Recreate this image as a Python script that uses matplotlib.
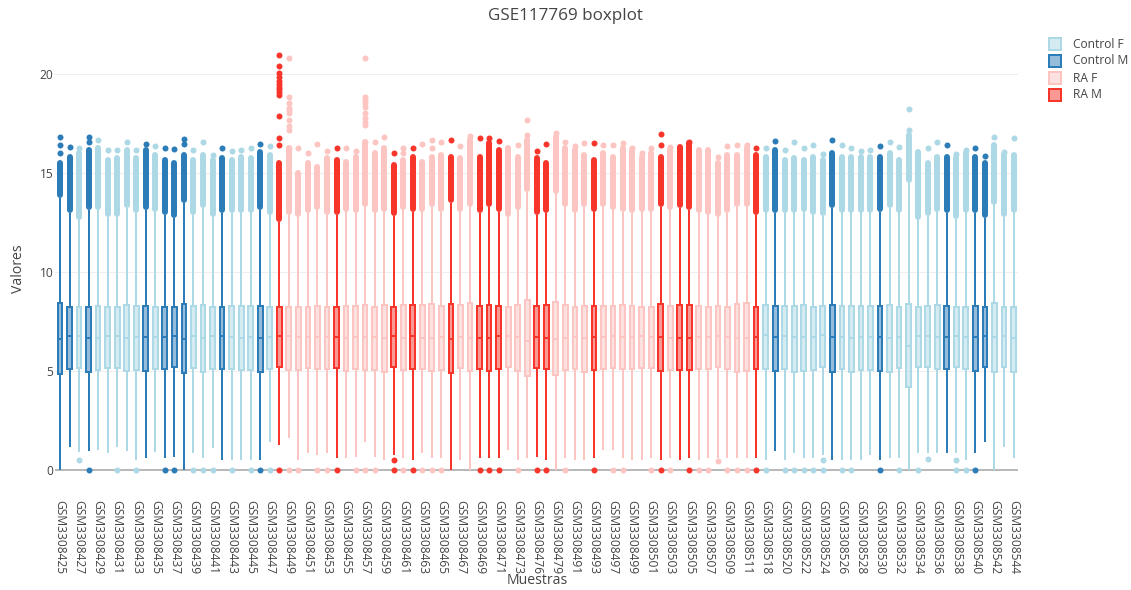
import matplotlib
matplotlib.use("Agg")
import matplotlib.pyplot as plt
from matplotlib.patches import Rectangle
from matplotlib.colors import to_rgba

plt.rcParams['font.family'] = ['Open Sans', 'DejaVu Sans']

# ---------------------------------------------------------------- data
sample_ids = [
    425, 426, 427, 428, 429, 430, 431, 432, 433, 434, 435, 436, 437, 438, 439, 440,
    441, 442, 443, 444, 445, 446, 447, 448, 449, 450, 451, 452, 453, 454, 455, 456,
    457, 458, 459, 460, 461, 462, 463, 464, 465, 466, 467, 468, 469, 470, 471, 472,
    473, 474, 476, 477, 479, 490, 491, 492, 493, 495, 497, 498, 499, 500, 501, 502,
    503, 504, 505, 506, 507, 508, 509, 510, 511, 515, 518, 519, 520, 521, 522, 523,
    524, 525, 526, 527, 528, 529, 530, 531, 532, 533, 534, 535, 536, 537, 538, 539,
    540, 541, 542, 543, 544]
samples = ["GSM3308%d" % s for s in sample_ids]

group = [
    'CM', 'CM', 'CF', 'CM', 'CF', 'CF', 'CF', 'CF', 'CF', 'CM',
    'CF', 'CM', 'CM', 'CM', 'CF', 'CF', 'CF', 'CM', 'CF', 'CF',
    'CF', 'CM', 'CF', 'RM', 'RF', 'RF', 'RF', 'RF', 'RF', 'RM',
    'RF', 'RF', 'RF', 'RF', 'RF', 'RM', 'RF', 'RM', 'RF', 'RF',
    'RF', 'RM', 'RF', 'RF', 'RM', 'RM', 'RM', 'RF', 'RF', 'RF',
    'RM', 'RM', 'RF', 'RF', 'RF', 'RF', 'RM', 'RF', 'RF', 'RF',
    'RF', 'RF', 'RF', 'RM', 'RF', 'RM', 'RM', 'RF', 'RF', 'RF',
    'RF', 'RF', 'RF', 'RM', 'CF', 'CM', 'CF', 'CF', 'CF', 'CF',
    'CF', 'CM', 'CF', 'CF', 'CF', 'CF', 'CM', 'CF', 'CF', 'CF',
    'CF', 'CF', 'CF', 'CM', 'CF', 'CF', 'CM', 'CM', 'CF', 'CF',
    'CF']

q3 = [8.42, 8.26, 8.22, 8.26, 8.29, 8.26, 8.26, 8.34, 8.29, 8.29,
      8.26, 8.26, 8.26, 8.37, 8.29, 8.34, 8.26, 8.26, 8.29, 8.29,
      8.29, 8.29, 8.26, 8.22, 8.22, 8.22, 8.26, 8.29, 8.26, 8.26,
      8.29, 8.29, 8.34, 8.26, 8.34, 8.26, 8.34, 8.34, 8.34, 8.37,
      8.29, 8.37, 8.34, 8.42, 8.29, 8.34, 8.29, 8.26, 8.34, 8.59,
      8.29, 8.34, 8.51, 8.34, 8.26, 8.29, 8.29, 8.29, 8.29, 8.34,
      8.29, 8.26, 8.26, 8.37, 8.29, 8.34, 8.34, 8.29, 8.26, 8.29,
      8.26, 8.37, 8.42, 8.26, 8.34, 8.29, 8.29, 8.29, 8.34, 8.26,
      8.29, 8.34, 8.29, 8.29, 8.29, 8.29, 8.29, 8.34, 8.26, 8.37,
      8.26, 8.29, 8.34, 8.29, 8.26, 8.26, 8.29, 8.26, 8.42, 8.26,
      8.26]

median = [6.60, 6.77, 6.77, 6.69, 6.69, 6.77, 6.77, 6.69, 6.74, 6.74,
          6.74, 6.74, 6.77, 6.60, 6.77, 6.69, 6.77, 6.77, 6.74, 6.69,
          6.74, 6.69, 6.74, 6.77, 6.77, 6.74, 6.74, 6.74, 6.74, 6.74,
          6.69, 6.74, 6.74, 6.74, 6.69, 6.77, 6.69, 6.77, 6.69, 6.69,
          6.74, 6.60, 6.74, 6.66, 6.69, 6.69, 6.77, 6.77, 6.74, 6.52,
          6.74, 6.69, 6.60, 6.69, 6.74, 6.69, 6.74, 6.74, 6.77, 6.74,
          6.74, 6.77, 6.74, 6.74, 6.69, 6.69, 6.69, 6.74, 6.74, 6.77,
          6.74, 6.69, 6.69, 6.74, 6.82, 6.74, 6.77, 6.74, 6.74, 6.74,
          6.81, 6.74, 6.74, 6.69, 6.74, 6.74, 6.74, 6.69, 6.74, 6.27,
          6.77, 6.77, 6.74, 6.74, 6.77, 6.74, 6.74, 6.77, 6.74, 6.77,
          6.69]

q1 = [4.84, 5.09, 5.17, 4.97, 5.06, 5.14, 5.14, 5.00, 5.06, 5.00,
      5.09, 5.09, 5.22, 4.89, 5.14, 4.97, 5.09, 5.09, 5.09, 5.06,
      5.06, 4.97, 5.09, 5.22, 5.06, 5.06, 5.14, 5.09, 5.09, 5.14,
      5.02, 5.09, 5.06, 5.06, 4.97, 5.19, 5.06, 5.09, 5.09, 5.00,
      5.06, 4.89, 5.14, 5.00, 5.09, 5.00, 5.09, 5.19, 5.00, 4.75,
      5.14, 5.09, 4.80, 5.06, 5.09, 4.97, 5.06, 5.09, 5.14, 5.09,
      5.09, 5.14, 5.14, 5.00, 5.06, 5.06, 5.06, 5.09, 5.09, 5.22,
      5.09, 4.97, 5.00, 5.09, 5.09, 5.02, 5.09, 4.97, 5.02, 5.06,
      5.19, 4.97, 5.09, 4.97, 5.06, 5.06, 5.02, 4.97, 5.14, 4.18,
      5.19, 5.22, 5.09, 5.09, 5.19, 5.09, 5.02, 5.19, 4.97, 5.19,
      4.97]

whisker_low = [0.00, 1.18, 0.89, 0.98, 1.01, 0.84, 1.18, 0.96, 0.51, 0.59,
               0.93, 0.59, 0.67, 0.00, 0.84, 0.59, 1.10, 0.51, 0.51, 0.51,
               0.51, 0.51, 1.43, 1.26, 1.60, 0.51, 0.84, 0.76, 0.84, 0.59,
               0.59, 0.67, 1.43, 0.67, 0.51, 0.75, 0.59, 0.51, 0.84, 0.59,
               0.59, 0.00, 0.51, 0.00, 0.59, 0.59, 0.59, 1.01, 0.51, 0.59,
               0.67, 0.51, 0.00, 0.59, 0.51, 0.51, 0.59, 1.01, 1.01, 0.59,
               0.51, 0.51, 0.59, 0.51, 0.59, 0.51, 0.59, 0.51, 0.59, 0.59,
               0.59, 0.59, 0.59, 0.59, 0.51, 0.98, 0.51, 0.88, 0.59, 0.59,
               0.76, 0.51, 0.51, 0.51, 0.51, 0.76, 0.51, 0.59, 0.59, 0.00,
               0.88, 0.84, 0.88, 0.88, 0.84, 0.51, 0.88, 1.43, 0.00, 1.18,
               0.59]

whisker_high = [13.73, 12.97, 12.64, 13.14, 13.14, 12.81, 12.81, 13.23, 12.97, 13.14,
                13.06, 12.89, 12.72, 13.48, 12.89, 13.23, 12.81, 12.97, 12.97, 12.97,
                12.97, 13.14, 12.89, 12.55, 12.89, 12.81, 12.97, 13.14, 12.89, 12.89,
                13.06, 12.97, 13.31, 12.97, 13.06, 12.85, 13.14, 13.06, 13.06, 13.31,
                13.06, 13.48, 13.06, 13.31, 12.97, 13.31, 13.06, 12.81, 13.14, 14.07,
                12.89, 12.97, 13.98, 13.31, 12.97, 13.31, 13.06, 13.31, 13.14, 13.06,
                12.97, 13.06, 13.06, 13.31, 13.14, 13.23, 13.14, 12.97, 12.89, 12.81,
                12.97, 13.31, 13.31, 12.89, 12.97, 12.97, 13.01, 12.97, 13.06, 12.89,
                12.84, 13.23, 12.97, 12.97, 12.97, 12.97, 13.06, 13.23, 12.97, 14.49,
                12.64, 12.84, 13.06, 12.97, 12.67, 12.97, 13.01, 12.72, 13.40, 12.81,
                12.97]

# upper end of the densely packed run of outliers above each whisker
outlier_run_top = [15.50, 15.84, 16.01, 16.18, 16.26, 15.67, 15.75, 16.18, 15.75, 16.18,
                   15.92, 15.67, 15.50, 15.92, 15.67, 15.92, 15.67, 15.75, 15.67, 15.84,
                   15.75, 16.09, 15.92, 15.50, 16.26, 15.00, 15.50, 15.33, 15.75, 15.67,
                   15.59, 15.84, 16.60, 16.01, 16.26, 15.42, 15.67, 15.84, 15.59, 15.84,
                   15.92, 15.84, 15.75, 16.68, 15.84, 16.51, 16.18, 16.26, 15.84, 16.68,
                   15.75, 15.50, 16.85, 16.26, 16.18, 15.92, 15.67, 16.01, 15.84, 16.26,
                   16.18, 15.84, 16.01, 15.84, 16.18, 16.34, 16.51, 16.18, 16.18, 15.50,
                   15.92, 15.92, 16.26, 15.92, 15.84, 16.18, 15.67, 15.75, 15.67, 15.84,
                   15.67, 16.01, 15.84, 15.84, 15.84, 15.84, 15.84, 16.01, 15.67, 16.93,
                   16.09, 15.50, 15.84, 15.84, 15.75, 16.01, 15.84, 15.50, 16.43, 15.92,
                   15.92]

# isolated high outliers
high_outliers = [
    [16.01, 16.43, 16.85], [16.34], [16.26], [16.56, 16.85], [16.68],
    [16.20], [16.20], [16.56], [16.17], [16.50],
    [16.40], [16.26], [16.22], [16.46, 16.73], [16.18],
    [16.60], [15.92], [16.26], [16.13], [16.20],
    [16.30], [16.46], [16.40],
    [16.43, 16.80, 17.90, 18.96, 19.10, 19.25, 19.38, 19.50, 19.65, 19.85, 20.05, 20.40, 20.98],
    [16.28, 17.19, 17.40, 17.69, 18.05, 18.20, 18.30, 18.57, 18.87, 20.83],
    [16.26], [16.01], [16.46], [16.13], [16.30],
    [16.26], [16.13],
    [16.60, 17.44, 17.60, 17.80, 18.05, 18.37, 18.55, 18.70, 18.87, 20.85],
    [16.60], [16.85],
    [16.01], [16.01, 16.30], [16.30], [16.47], [16.26, 16.68],
    [16.60], [16.68], [16.40], [16.90], [16.80],
    [16.78], [16.65], [], [16.43], [16.93, 17.70],
    [16.13], [16.50], [17.05], [16.60], [16.40],
    [16.51], [16.51], [16.43], [16.43], [16.51],
    [16.30], [16.05], [16.30], [16.43, 17.00], [16.34],
    [], [16.60], [], [], [15.84],
    [16.40], [16.43], [16.43], [16.30], [16.26],
    [16.63], [16.20], [16.58], [16.26], [16.43],
    [15.96], [16.68], [16.43], [16.26], [16.13],
    [16.17], [16.40], [16.58], [16.34], [17.20, 18.23],
    [], [16.26], [16.58], [16.43], [15.96],
    [16.17], [16.26], [15.88], [16.85], [16.09],
    [16.78]]

# low outliers (zeros and near-zero values)
low_outliers = [
    [], [], [0.51], [0], [], [], [0], [], [0], [],
    [], [0], [0], [], [0], [0], [0], [], [0], [],
    [0], [0], [0], [0], [0], [0], [], [0], [0], [0],
    [], [0], [0], [0], [], [0, 0.51], [0], [0], [0], [0],
    [0], [], [], [], [0], [0], [0], [], [0], [],
    [0], [0], [], [0], [], [], [0], [], [0], [0],
    [], [], [0], [0], [0], [], [0], [0], [0], [0.45],
    [0], [0], [0], [0], [0], [], [0], [0], [0], [0],
    [0, 0.51], [], [0], [0], [], [], [0], [], [0], [],
    [0], [0.54], [], [], [0, 0.51], [0], [0], [], [], [],
    []]

legend_order = ['CF', 'CM', 'RF', 'RM']
legend_names = {'CF': 'Control F', 'CM': 'Control M', 'RF': 'RA F', 'RM': 'RA M'}
colors = {'CF': '#add8e6', 'CM': '#2c7cb8', 'RF': '#fcc5c2', 'RM': '#f7352b'}

# ---------------------------------------------------------------- figure
W, H = 1131, 590
fig = plt.figure(figsize=(W / 100, H / 100), dpi=100)
px = 0.72  # points per pixel at 100 dpi

ax_left, ax_right, ax_top, ax_bottom = 55.2, 1018.3, 47.7, 489.8
ax = fig.add_axes([ax_left / W, 1 - ax_bottom / H,
                   (ax_right - ax_left) / W, (ax_bottom - ax_top) / H])
ax.set_xlim(-0.5, len(samples) - 0.5)
ax.set_ylim(-1.0, 21.35)

for s in ax.spines.values():
    s.set_visible(False)

yticks = [0, 5, 10, 15, 20]
for v in yticks[1:]:
    ax.axhline(v, color='#eeeeee', lw=1 * px, zorder=0)
ax.axhline(0, color='#a3a3a3', lw=1.5 * px, zorder=0.5)

lw = 2 * px
ms = 6 * px
for g in legend_order:
    c = colors[g]
    idx = [i for i, gg in enumerate(group) if gg == g]
    stats = [dict(med=median[i], q1=q1[i], q3=q3[i],
                  whislo=whisker_low[i], whishi=whisker_high[i], fliers=[])
             for i in idx]
    ax.bxp(stats, positions=idx, widths=0.5, showfliers=False, showcaps=False,
           patch_artist=True, manage_ticks=False,
           boxprops=dict(facecolor=to_rgba(c, 0.5), edgecolor=c, linewidth=lw),
           whiskerprops=dict(color=c, linewidth=lw, solid_capstyle='butt'),
           medianprops=dict(color=c, linewidth=lw, solid_capstyle='butt'))
    for i in idx:
        ax.plot([i, i], [whisker_high[i] + 0.15, outlier_run_top[i]], color=c,
                lw=ms, solid_capstyle='round', zorder=2)
        pts = high_outliers[i] + low_outliers[i]
        if pts:
            ax.plot([i] * len(pts), pts, 'o', color=c, ms=ms, mew=0,
                    zorder=2.1, clip_on=False)

ax.set_yticks(yticks)
ax.set_yticklabels([str(v) for v in yticks])
ax.set_xticks(range(0, len(samples), 2))
ax.set_xticklabels(samples[::2], rotation=-90, va='top', ha='center')
ax.tick_params(axis='y', length=0, pad=2 * px, labelsize=12 * px, labelcolor='#444444')
ax.tick_params(axis='x', length=0, pad=10 * px, labelsize=12 * px, labelcolor='#444444')

fig.text(0.5, 1 - 16 / H, 'GSE117769 boxplot', ha='center', va='center',
         fontsize=17 * px, color='#444444')
fig.text((ax_left + ax_right) / 2 / W, 1 - 581 / H, 'Muestras', ha='center',
         va='center', fontsize=14 * px, color='#444444')
fig.text(18 / W, 1 - (ax_top + ax_bottom) / 2 / H, 'Valores', ha='center',
         va='center', rotation=90, fontsize=14 * px, color='#444444')

# legend
for k, g in enumerate(legend_order):
    yc = 44 + 17 * k
    c = colors[g]
    fig.patches.append(Rectangle(((1049) / W, 1 - (yc + 6) / H), 12 / W, 12 / H,
                                 transform=fig.transFigure,
                                 facecolor=to_rgba(c, 0.5), edgecolor=c, lw=lw))
    fig.text(1073 / W, 1 - yc / H, legend_names[g], ha='left', va='center',
             fontsize=12 * px, color='#444444')

fig.savefig('out.png', dpi=100)
